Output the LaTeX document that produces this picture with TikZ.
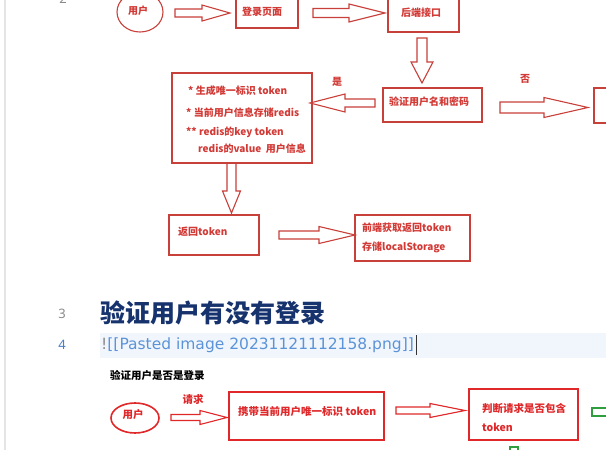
\documentclass[tikz,border=0pt]{standalone}
\usepackage{fontspec}
\setmainfont{Noto Sans}
\newfontfamily\cjk{Noto Sans CJK SC}
\newfontfamily\editorfont{DejaVu Sans}
\definecolor{topred}{HTML}{C8403A}
\definecolor{toptext}{HTML}{D23A36}
\definecolor{botred}{HTML}{E0282A}
\definecolor{flowgreen}{HTML}{2E9E3E}
\definecolor{navy}{HTML}{17336E}
\definecolor{linkblue}{HTML}{5B93D8}
\definecolor{rowhl}{HTML}{F1F6FC}
\definecolor{gutter}{HTML}{E4E4E4}
\definecolor{lnum}{HTML}{8A8A8A}
\definecolor{lnumact}{HTML}{4A7FC4}

% horizontal block arrow: start x, head base x, tip x, centre y, shaft half height, head half height
\newcommand{\harrow}[7][topred]{%
  \draw[#1, line width=1.1, line join=miter]
    (#2,#5-#6) -- (#3,#5-#6) -- (#3,#5-#7) -- (#4,#5) -- (#3,#5+#7)
    -- (#3,#5+#6) -- (#2,#5+#6) -- cycle;}
% vertical block arrow: centre x, start y, head base y, tip y, shaft half width, head half width
\newcommand{\varrow}[7][topred]{%
  \draw[#1, line width=1.1, line join=miter]
    (#2-#6,#3) -- (#2-#6,#4) -- (#2-#7,#4) -- (#2,#5) -- (#2+#7,#4)
    -- (#2+#6,#4) -- (#2+#6,#3) -- cycle;}

\begin{document}
\begin{tikzpicture}[x=1pt, y=-1pt,
  topbox/.style={draw=topred, line width=1.1, inner sep=0, fill=none},
  botbox/.style={draw=botred, line width=2, inner sep=0},
  toplabel/.style={inner sep=0, text=toptext, font=\cjk\bfseries\fontsize{10}{12}\selectfont},
  botlabel/.style={inner sep=0, text=botred, font=\cjk\bfseries\fontsize{10.5}{13}\selectfont},
  linenum/.style={inner sep=0, font=\fontsize{13}{15}\selectfont},
]
\useasboundingbox (0,0) rectangle (606,450);
\clip (0,0) rectangle (606,450);
\fill[white] (0,0) rectangle (606,450);

% editor gutter and line numbers
\draw[gutter, line width=1.5] (5,0) -- (5,450);
\node[linenum, text=lnum, anchor=base] (ln2) at (63,3) {2};
\node[linenum, text=lnum] (ln3) at (62,314) {3};
\node[linenum, text=lnumact] (ln4) at (62,345) {4};

% ---------------- login flow ----------------
\draw[topred, line width=1.1] (140,12) ellipse [x radius=23, y radius=20];
\node[toplabel] (user1) at (138,11) {用户};

\node[topbox, minimum width=62, minimum height=36] (loginpage) at (267,10) {};
\node[toplabel] (loginlbl) at (262,12) {登录页面};

\node[topbox, minimum width=71, minimum height=40] (backend) at (423.5,12) {};
\node[toplabel] (backendlbl) at (421,13) {后端接口};

\node[topbox, minimum width=99, minimum height=34] (verify) at (432.5,105) {};
\node[toplabel, anchor=west] (verifylbl) at (389,102) {验证用户名和密码};

\node[topbox, minimum width=40, minimum height=35] (failbox) at (614,105.5) {};

\node[topbox, minimum width=140, minimum height=90] (tokenbox) at (242,118) {};
\node[toplabel, anchor=west] (t1) at (188,91) {* 生成唯一标识 token};
\node[toplabel, anchor=west] (t2) at (186,113) {* 当前用户信息存储redis};
\node[toplabel, anchor=west] (t3) at (186,132) {** redis的key token};
\node[toplabel, anchor=west] (t4) at (198,149) {redis的value\ \ 用户信息};

\node[topbox, minimum width=90, minimum height=40] (ret) at (214,235) {};
\node[toplabel, anchor=west] (retlbl) at (178,232) {返回token};

\node[topbox, minimum width=115, minimum height=46] (front) at (412.5,238) {};
\node[toplabel, anchor=west] (f1) at (362,228) {前端获取返回token};
\node[toplabel, anchor=west] (f2) at (362,247) {存储localStorage};

\node[toplabel] (yes) at (337,82) {是};
\node[toplabel] (no) at (525,79) {否};

\harrow{175}{202}{230}{13}{4}{8}
\harrow{313}{349}{385}{13}{4.5}{9}
\varrow{422}{38}{62}{83}{5}{11}
\harrow{375}{345}{310}{103}{4}{9}
\harrow{500}{544}{588}{107.5}{5.5}{10}
\varrow{231.5}{163}{191}{213}{4.5}{9}
\harrow{279}{319}{355}{235}{4}{8.5}

% ---------------- heading and embed line ----------------
\node[inner sep=0, anchor=west, text=navy,
      font=\cjk\bfseries\fontsize{25}{30}\selectfont] (heading) at (100,313) {验证用户有没有登录};
\fill[rowhl] (100,333) rectangle (606,358);
\node[inner sep=0, anchor=west, font=\editorfont\fontsize{15.5}{18}\selectfont] (embed) at (101,345)
  {\textcolor{lnum}{!}\textcolor{linkblue}{[[Pasted image 20231121112158.png]]}};
\draw[black!80, line width=0.8] (embed.east) ++(2,-10) -- ++(0,20);

% ---------------- token check flow ----------------
\node[inner sep=0, anchor=west, font=\cjk\bfseries\fontsize{10.5}{13}\selectfont] (title2) at (110,375) {验证用户是否是登录};

\draw[botred, line width=1.6] (135,418) ellipse [x radius=24, y radius=15];
\node[botlabel] (user2) at (133,415) {用户};
\node[botlabel] (req) at (193,399) {请求};

\node[botbox, minimum width=155, minimum height=48] (carry) at (306.5,416) {};
\node[botlabel, anchor=west] (carrylbl) at (238,412) {携带当前用户唯一标识 token};

\node[botbox, minimum width=109, minimum height=51] (judge) at (523.5,414.5) {};
\node[botlabel, anchor=west] (j1) at (482,409) {判断请求是否包含};
\node[botlabel, anchor=west] (j2) at (482,427) {token};

\harrow[botred]{171}{200}{227}{417.5}{3}{7}
\harrow[botred]{396}{430}{465}{410.5}{3.5}{7}

\draw[flowgreen, line width=1.6] (612,408) -- (592,408) -- (592,416) -- (612,416);
\draw[flowgreen, line width=1.6] (510,456) -- (510,447) -- (518,447) -- (518,456);
\end{tikzpicture}
\end{document}
